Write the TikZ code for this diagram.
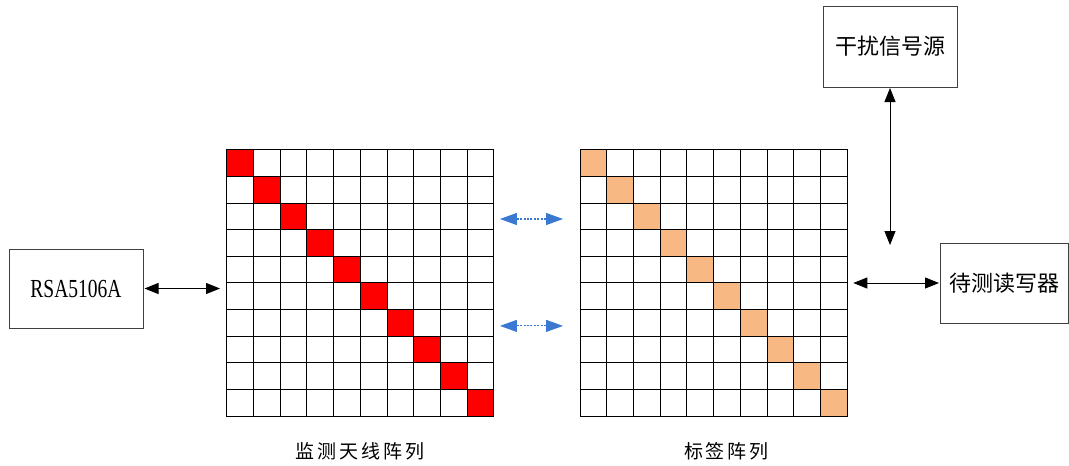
\documentclass[tikz,border=0pt]{standalone}
\usepackage{fontspec}
\setmainfont{Liberation Serif}
\newfontfamily\cjk{Noto Sans CJK SC}
\usetikzlibrary{arrows.meta}
\definecolor{tagorange}{HTML}{F8B883}
\definecolor{arrowblue}{HTML}{3A78D2}
\newcommand\ks{\kern3pt}
\begin{document}
\begin{tikzpicture}[x=1pt,y=-1pt,
  cell/.style={draw=black,line width=1pt,minimum size=26.7pt,inner sep=0pt,outer sep=0pt},
  box/.style={draw=black!75,line width=1pt,inner sep=0pt,outer sep=0pt},
  link/.style={line width=0.9pt,{Triangle[length=14pt,width=11pt]}-{Triangle[length=14pt,width=11pt]}},
  blink/.style={arrowblue,line width=1.1pt,dash pattern=on 2pt off 1.4pt,{Triangle[length=17pt,width=12pt]}-{Triangle[length=17pt,width=12pt]}},
  boxtext/.style={font=\cjk\fontsize{22}{24}\selectfont},
  labeltext/.style={font=\cjk\fontsize{19}{21}\selectfont}]
\useasboundingbox[fill=white] (0,0) rectangle (1069,466);
% monitoring antenna array
\foreach \i in {0,...,9} \foreach \j in {0,...,9} {
  \ifnum\i=\j \def\fc{red}\else\def\fc{white}\fi
  \node[cell,fill=\fc] (a\i\j) at (226.7+26.73*\j+13.36, 150+26.6*\i+13.3) {};
}
% tag array
\foreach \i in {0,...,9} \foreach \j in {0,...,9} {
  \ifnum\i=\j \def\fc{tagorange}\else\def\fc{white}\fi
  \node[cell,fill=\fc] (b\i\j) at (580+26.73*\j+13.36, 150+26.6*\i+13.3) {};
}
% boxes
\node[box,minimum width=134pt,minimum height=79pt] (rsa) at (76,288.5)
  {\fontsize{26}{28}\selectfont\scalebox{0.75}[1]{RSA5106A}};
\node[box,boxtext,minimum width=134pt,minimum height=81pt] (src) at (890,46.5) {干扰信号源};
\node[box,boxtext,minimum width=128pt,minimum height=80pt] (rdr) at (1004,283) {待测读写器};
% labels
\node[labeltext] (l1) at (360,451) {监\ks 测\ks 天\ks 线\ks 阵\ks 列};
\node[labeltext] (l2) at (726.5,451) {标\ks 签\ks 阵\ks 列};
% connectors
\coordinate (srcend) at (890,245);
\draw[link,shorten <=1.5pt,shorten >=6.7pt] (rsa.east) -- (rsa.east -| a00.west);
\draw[link,shorten <=1pt] (src.south) -- (srcend);
\draw[link,shorten <=6pt,shorten >=1pt] (rdr.west -| b09.east) -- (rdr.west);
\draw[blink,shorten <=6pt,shorten >=17pt] ([yshift=-2.5pt]a29.east) -- ([yshift=-2.5pt]b20.west);
\draw[blink,shorten <=6pt,shorten >=17pt] ([yshift=-3pt]a69.east) -- ([yshift=-3pt]b60.west);
\end{tikzpicture}
\end{document}
